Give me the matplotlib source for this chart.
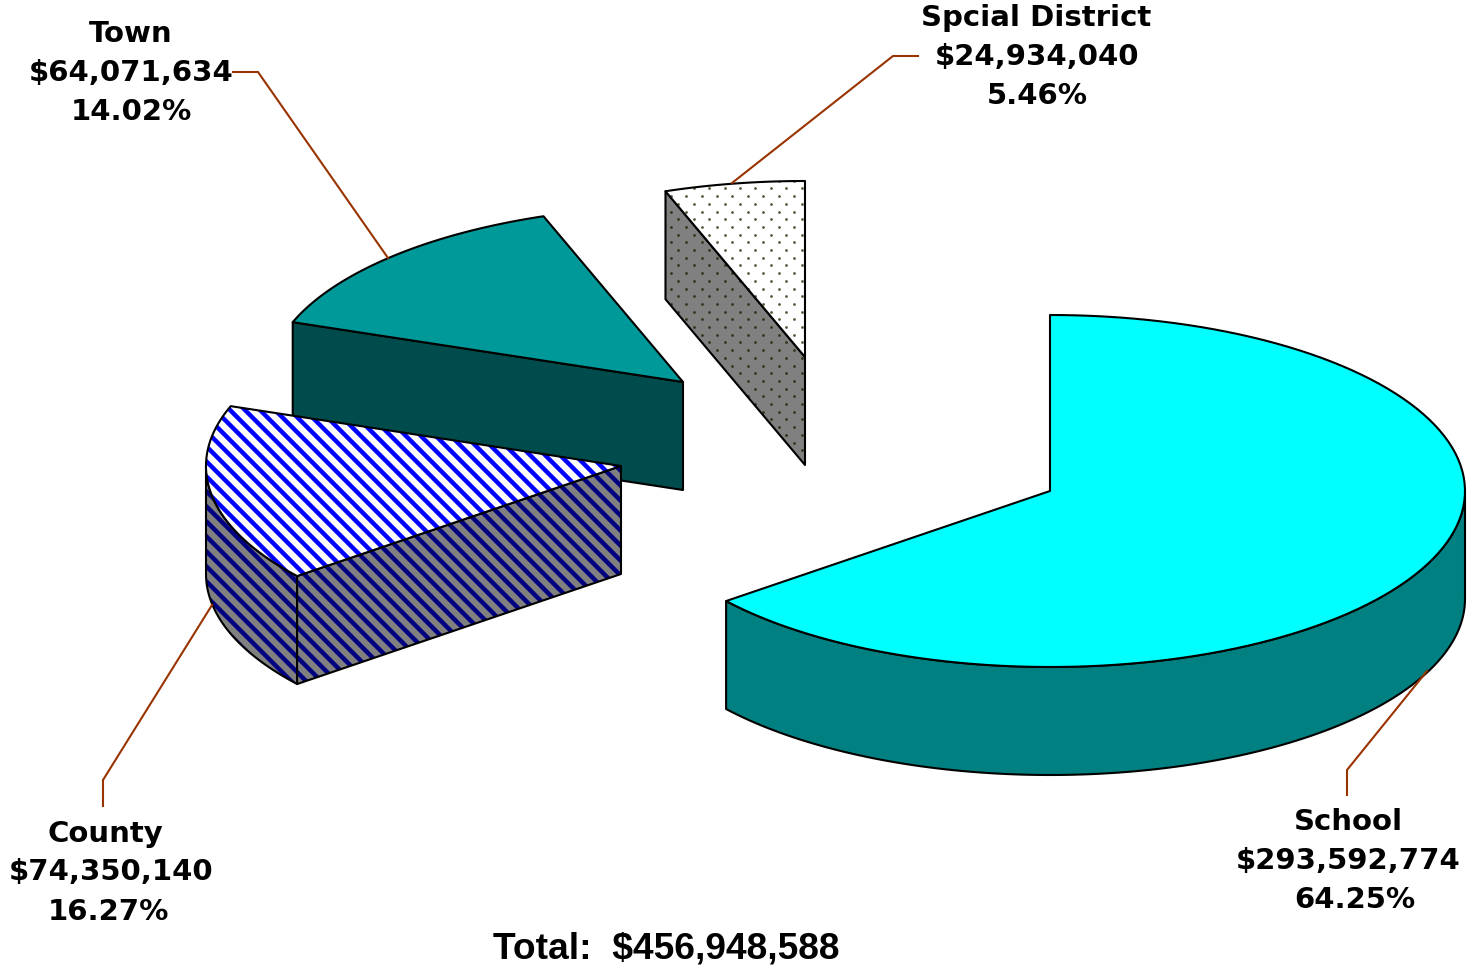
import numpy as np
import matplotlib
matplotlib.use("Agg")
import matplotlib.pyplot as plt
from matplotlib.patches import Polygon
from matplotlib.collections import LineCollection

categories = ["School", "County", "Town", "Spcial District"]
values = [293592774, 74350140, 64071634, 24934040]

# Slice apex after explosion, in image pixels
apex_x = [1050, 621, 683, 805]
apex_y = [491, 466, 382, 357]
RX, RY, DEPTH = 415, 176, 108

label_x = [(1348, 1348, 1355), (105, 111, 108), (131, 131, 131), (1036, 1037, 1037)]
label_y = [(822, 861, 900), (834, 872, 912), (34, 73, 112), (18, 57, 96)]
leader_x = [(1347, 1347, 1427), (103, 103, 212), (233, 258, 388), (918, 893, 732)]
leader_y = [(795, 770, 671), (806, 780, 605), (72, 72, 258), (56, 56, 183)]
LEADER = "#993300"

fig = plt.figure(figsize=(14.69, 9.72), dpi=100)
ax = fig.add_axes([0, 0, 1, 1])
ax.set_xlim(0, 1469)
ax.set_ylim(972, 0)
ax.axis("off")

total = sum(values)
edges = np.concatenate([[0], np.cumsum(values)]) / total * 2 * np.pi


def arc(i, a0, a1, drop=0, n=120):
    t = np.linspace(a0, a1, n)
    return np.column_stack([apex_x[i] + RX * np.sin(t), apex_y[i] - RY * np.cos(t) + drop])


def shape(pts, fc, z):
    p = Polygon(pts, closed=True, fc=fc, ec="none", zorder=z)
    ax.add_patch(p)
    return p


def outline(pts, z):
    ax.add_patch(Polygon(pts, closed=True, fc="none", ec="black", lw=1.5, zorder=z, joinstyle="round"))


def stripes(clip, color, z, period=15.0, lw=3.2):
    lines = [[(-200, c - 200), (1700, c + 1700)] for c in np.arange(-1800, 1000, period)]
    lc = LineCollection(lines, colors=color, linewidths=lw, zorder=z)
    ax.add_collection(lc)
    lc.set_clip_path(clip)


def dots(clip, color, z, dx=15.4, dy=7.7):
    xs, ys = [], []
    for r, y in enumerate(np.arange(150, 500, dy)):
        for x in np.arange(640 + (r % 2) * dx / 2, 830, dx):
            xs.append(x)
            ys.append(y)
    s = ax.scatter(xs, ys, s=4, c=color, linewidths=0, zorder=z)
    s.set_clip_path(clip)


def side_face(p, q):
    return np.array([p, q, (q[0], q[1] + DEPTH), (p[0], p[1] + DEPTH)])


def wedge(i):
    a0, a1 = edges[i], edges[i + 1]
    return np.vstack([[(apex_x[i], apex_y[i])], arc(i, a0, a1)])


def rim(i, a0, a1):
    return np.vstack([arc(i, a0, a1), arc(i, a1, a0, DEPTH)])


# Spcial District
i = 3
top = wedge(i)
cut = side_face((apex_x[i], apex_y[i]), arc(i, edges[i], edges[i], n=1)[0])
c = shape(cut, "#808080", 10); dots(c, "#33331f", 11); outline(cut, 12)
t = shape(top, "white", 13); dots(t, "#5a5a40", 14); outline(top, 15)

# Town
i = 2
top = wedge(i)
cut = side_face((apex_x[i], apex_y[i]), arc(i, edges[i], edges[i], n=1)[0])
shape(cut, "#004C4C", 20); outline(cut, 21)
shape(top, "#009999", 22); outline(top, 23)

# County
i = 1
top = wedge(i)
cut = side_face((apex_x[i], apex_y[i]), arc(i, edges[i], edges[i], n=1)[0])
side = rim(i, edges[i], 1.5 * np.pi)
for pts, z in ((side, 30), (cut, 33)):
    p = shape(pts, "#808080", z); stripes(p, "#000080", z + 1); outline(pts, z + 2)
t = shape(top, "white", 36); stripes(t, "#0000FF", 37); outline(top, 38)

# School
i = 0
top = wedge(i)
side = rim(i, 0.5 * np.pi, edges[1])
shape(side, "#008080", 40); outline(side, 41)
shape(top, "#00FFFF", 42); outline(top, 43)

# Leaders and labels
for lx, ly in zip(leader_x, leader_y):
    ax.plot(lx, ly, color=LEADER, lw=1.5, zorder=50, solid_joinstyle="miter")

for name, v, xs, ys in zip(categories, values, label_x, label_y):
    lines = [name, f"${v:,}", f"{100 * v / total:.2f}%"]
    for s, x, y in zip(lines, xs, ys):
        ax.text(x, y, s, ha="center", va="center", fontsize=21, fontweight="bold",
                family="DejaVu Sans", color="black", zorder=60)

ax.text(666, 949, f"Total:  ${total:,}", ha="center", va="center", fontsize=26.7,
        fontweight="bold", family="Liberation Sans", color="black", zorder=60)

fig.savefig("out.png", dpi=100, facecolor="white")
